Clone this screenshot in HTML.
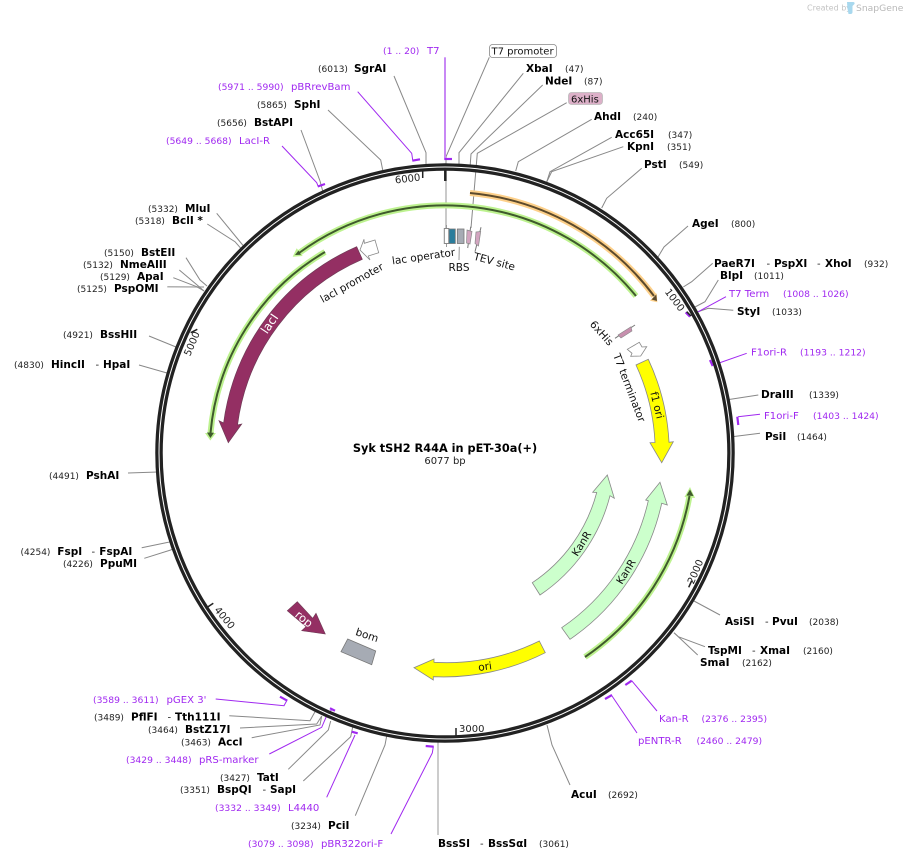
<!DOCTYPE html>
<html><head><meta charset="utf-8"><style>
html,body{margin:0;padding:0;background:#fff}
svg{display:block}
text{font-family:"DejaVu Sans",sans-serif;fill:#111}
.b{font-weight:bold;font-size:10.5px;fill:#000}
.n{font-size:9px;fill:#222}
.d{font-size:10px;fill:#222}
.p{font-size:10.1px;fill:#a028f0}
.q{font-size:9.2px;fill:#a028f0}
.l{font-size:10.5px;fill:#111}
.t{font-size:10px;fill:#222}
.c{fill:none;stroke:#888;stroke-width:1}
.v{fill:none;stroke:#a028f0;stroke-width:1}
.m{fill:none;stroke:#a028f0;stroke-width:2.2}
</style></head><body>
<svg width="904" height="860" viewBox="0 0 904 860" xmlns="http://www.w3.org/2000/svg">
<rect width="904" height="860" fill="#fff"/>

<!-- logo -->
<text x="807" y="10.5" style="font-size:8px;fill:#c4c4c4">Created by</text>
<path d="M847 2h6q2 0 1.500 2l-2 2v6q0 2-2 2l-2 0q-1.500-6-1.500-12z" fill="#a8d8ee"/>
<text x="856" y="11" style="font-size:9.200px;fill:#b8b8b8">SnapGene</text>

<!-- connectors -->
<polyline class="c" points="394,76 426,152.700 426,165"/>
<polyline class="c" points="489.300,57.300 446,156.700 446,165"/>
<polyline class="c" points="523.300,73.300 459,152.700 459,165"/>
<polyline class="c" points="542.700,85 471,154 470,168"/>
<polyline class="c" points="566.700,102.700 477.300,153.300 471,228"/>
<polyline class="c" points="591.700,119.300 518.300,161.700 515.700,171"/>
<polyline class="c" points="611.700,137.300 550,171.700 546.700,182"/>
<polyline class="c" points="623.300,146.700 551.700,171.700 546.700,182"/>
<polyline class="c" points="641.700,168.300 606.700,198.300 601.700,208"/>
<polyline class="c" points="688,226 664,247 658,257"/>
<polyline class="c" points="712.700,263.300 691.700,281.700 683.300,287"/>
<polyline class="c" points="718.300,280 705,301.700 695,307"/>
<polyline class="c" points="733.300,310.300 708.300,308.300 698.300,311.700"/>
<line class="c" x1="758.300" y1="395" x2="729" y2="399.500"/>
<line class="c" x1="760" y1="433.300" x2="732" y2="436.800"/>
<line class="c" x1="720" y1="615" x2="694" y2="601"/>
<polyline class="c" points="705,646.700 678.300,636.700 674,632.700"/>
<polyline class="c" points="697.700,655 678.300,636.700 674,632.700"/>
<polyline class="c" points="570,785 552,745 547,725"/>
<line x1="438" y1="835" x2="438" y2="741" stroke="#bbb" stroke-width="1.500"/>
<polyline class="c" points="229.300,715.700 310,720.700 315,711.700"/>
<polyline class="c" points="240,728 316.700,724 321.700,716"/>
<polyline class="c" points="251.700,737.700 320,725 321.700,716"/>
<polyline class="c" points="288.300,769.300 328.300,730 330.700,721"/>
<polyline class="c" points="303.300,781 350.700,736.700 352.700,727"/>
<polyline class="c" points="355.300,815.700 385,745 386.700,736"/>
<polyline class="c" points="144.300,558.300 170.700,550 175,548"/>
<polyline class="c" points="141.700,547.700 168.300,542.300 173,541"/>
<line class="c" x1="128" y1="473" x2="158" y2="472"/>
<line class="c" x1="139" y1="365" x2="167" y2="373"/>
<line class="c" x1="149" y1="336" x2="176" y2="347"/>
<line x1="167.300" y1="286.700" x2="204" y2="287" stroke="#b0b0b0" stroke-width="1.500"/>
<polyline class="c" points="173.300,277.700 196.700,286.700 204,291"/>
<polyline class="c" points="179.300,270 198.300,286 204,291"/>
<polyline class="c" points="186,257.700 200,280 207,286"/>
<polyline class="c" points="207.300,224 235,241.700 241,248.500"/>
<line class="c" x1="216.700" y1="213.300" x2="243.500" y2="246"/>
<polyline class="c" points="301,130 320,181 323,192"/>
<polyline class="c" points="328,110 380.700,160 382.700,170"/>

<!-- purple connectors -->
<line x1="445" y1="57.300" x2="445" y2="158.300" stroke="#c888f5" stroke-width="2"/>
<line class="m" x1="444.300" y1="159" x2="452" y2="159"/>
<polyline class="v" points="357.700,91.700 411.700,153.300 412.700,160"/>
<line class="m" x1="412.300" y1="160.700" x2="420" y2="159.300"/>
<polyline class="v" points="282,146 316.700,182.700 318,186"/>
<line class="m" x1="317.700" y1="186.500" x2="325" y2="184"/>
<polyline class="v" points="726,296.700 698.300,311.700 690,316"/>
<line class="m" x1="685.700" y1="312.300" x2="690" y2="316.700"/>
<polyline class="v" points="746.700,353.300 713.300,365"/>
<line class="m" x1="710" y1="360" x2="712.700" y2="366"/>
<polyline class="v" points="760,414.300 738,416.700"/>
<line class="m" x1="737.300" y1="416.700" x2="738.300" y2="425"/>
<polyline class="v" points="657,711 631.700,680.700"/>
<line class="m" x1="625.300" y1="685" x2="631.700" y2="680.700"/>
<polyline class="v" points="637,733 612,696"/>
<line class="m" x1="605" y1="699" x2="612" y2="695"/>
<polyline class="v" points="391,834 432.300,753 433.300,746.700"/>
<line class="m" x1="425.700" y1="746" x2="433.700" y2="746.700"/>
<polyline class="v" points="215.700,699 284,705.700 286.700,700.700"/>
<line class="m" x1="280" y1="696.700" x2="287.300" y2="700.700"/>
<polyline class="v" points="269.300,754 321.700,727.300 326,717.300 332,709"/>
<line class="m" x1="330" y1="708.300" x2="335" y2="710.700"/>
<polyline class="v" points="326.700,797.300 355,735"/>
<line class="m" x1="351.700" y1="731.700" x2="357.700" y2="733.300"/>

<!-- inner grey line from T7 marker -->
<line x1="446" y1="168" x2="446" y2="228" stroke="#b8b8b8" stroke-width="1.500"/>

<!-- backbone -->
<circle cx="445" cy="453" r="286" fill="none" stroke="#222" stroke-width="7.500"/>
<circle cx="445" cy="453" r="286" fill="none" stroke="#fff" stroke-width="1"/>

<!-- ticks -->
<g stroke="#222" stroke-width="1.500" fill="none">
<line x1="422.700" y1="170" x2="422.700" y2="178"/>
<line x1="445.300" y1="169" x2="445.300" y2="181" stroke-width="2.500"/>
<line x1="190.700" y1="332.700" x2="197.300" y2="329.300"/>
<line x1="207.300" y1="607.300" x2="213.300" y2="603.300"/>
<line x1="456" y1="728" x2="456" y2="736"/>
<line x1="691.700" y1="580.700" x2="688.700" y2="587.300"/>
<line x1="686.700" y1="311.700" x2="691" y2="316"/>
</g>
<text class="t" text-anchor="middle" transform="translate(408,182) rotate(-7)">6000</text>
<text class="t" text-anchor="middle" transform="translate(195,345) rotate(-67)">5000</text>
<text class="t" text-anchor="middle" transform="translate(222,620) rotate(50)">4000</text>
<text class="t" x="459" y="732">3000</text>
<text class="t" text-anchor="middle" transform="translate(698.500,573) rotate(-67)">2000</text>
<text class="t" text-anchor="middle" transform="translate(672,302) rotate(53)">1000</text>

<!-- primer-binding / halo arcs -->
<g fill="none">
<path d="M636,296 A247,247 0 0 0 299,253" stroke="#bdf28f" stroke-width="6"/>
<path d="M325,252 A234,234 0 0 0 210.500,433" stroke="#bdf28f" stroke-width="6"/>
<path d="M585,657 A248,248 0 0 0 689.500,496" stroke="#bdf28f" stroke-width="6"/>
<path d="M470,193 A260,260 0 0 1 654,296" stroke="#fdd08a" stroke-width="6"/>
</g>
<polygon points="292.700,256.700 296.700,248.300 302.700,256" fill="#bdf28f"/>
<polygon points="205,433 216,433 210.300,440.500" fill="#bdf28f"/>
<polygon points="690,487 684.500,497 695,498" fill="#bdf28f"/>
<polygon points="657.300,302.300 650,300.700 656.700,293.300" fill="#fdd08a"/>
<g fill="none" stroke-width="2">
<path d="M636,296 A247,247 0 0 0 299,253" stroke="#3f5a2c"/>
<path d="M325,252 A234,234 0 0 0 210.500,433" stroke="#3f5a2c"/>
<path d="M585,657 A248,248 0 0 0 689.500,496" stroke="#3f5a2c"/>
<path d="M470,193 A260,260 0 0 1 654,296" stroke="#5c4a2c"/>
</g>
<polygon points="295,255 298.500,250.500 301,254.800" fill="#3f5a2c"/>
<polygon points="207,432.500 214,432.800 210.400,438" fill="#3f5a2c"/>
<polygon points="690,489.500 686.500,495.500 693.500,496" fill="#3f5a2c"/>
<polygon points="657,301 651.500,299.500 656.300,294.500" fill="#5c4a2c"/>

<!-- small top features -->
<line x1="446.500" y1="225" x2="446.500" y2="247" stroke="#999" stroke-width="1"/>
<rect x="444.300" y="228.500" width="4.500" height="15" fill="#fff" stroke="#888" stroke-width="1"/>
<rect x="449" y="229" width="6.300" height="14.500" fill="#2a7d9c" stroke="#777" stroke-width="0.800"/>
<rect x="457.300" y="229" width="6.700" height="14.500" fill="#a6abb4" stroke="#777" stroke-width="0.800"/>
<line x1="470.700" y1="226.700" x2="467.700" y2="248" stroke="#777" stroke-width="1"/>
<polygon points="467,230 472,231.500 470,244 466.500,243" fill="#d3a5c0" stroke="#888" stroke-width="0.700"/>
<line x1="481" y1="227.300" x2="475" y2="251.700" stroke="#777" stroke-width="1"/>
<polygon points="476,232 480.700,231.500 478.500,246 475,243.500" fill="#d3a5c0" stroke="#888" stroke-width="0.700"/>
<line x1="459.300" y1="246.700" x2="459" y2="260" stroke="#999" stroke-width="1"/>

<text class="l" text-anchor="middle" transform="translate(424,260) rotate(-8)">lac operator</text>
<text class="l" text-anchor="middle" x="459" y="271">RBS</text>
<text class="l" text-anchor="middle" transform="translate(493.500,265) rotate(15)">TEV site</text>
<text class="l" text-anchor="middle" transform="translate(353.500,286) rotate(-29)">lacI promoter</text>

<!-- lacI -->
<path d="M356.700,246.700 A224,224 0 0 0 223.600,423 L219,420.700 L228.300,442.700 L241.700,424 L237.500,425 A210,210 0 0 1 362.300,259.300 Z" fill="#942f63" stroke="#6e3a55" stroke-width="0.700"/>
<text class="l" text-anchor="middle" style="fill:#fff;font-size:12px" transform="translate(273,326) rotate(-56)">lacI</text>
<!-- lacI promoter arrow -->
<polygon points="360,250 364,239.300 364.300,243.300 375,240 378.700,252.700 368.300,256 370,260" fill="#fff" stroke="#888" stroke-width="0.800"/>

<!-- 6xHis lower -->
<line x1="615" y1="338.300" x2="635" y2="325" stroke="#777" stroke-width="1"/>
<polygon points="618,335 631,326.700 632,331 621,338" fill="#c78fae" stroke="#888" stroke-width="0.600"/>
<text class="l" text-anchor="middle" transform="translate(599,335.500) rotate(48)">6xHis</text>
<text class="l" text-anchor="middle" transform="translate(626,389) rotate(69)">T7 terminator</text>
<polygon points="627.300,349.300 639.300,342.300 642,347 646.700,346.700 640.700,356 630.700,356.300 632,353.300" fill="#fff" stroke="#888" stroke-width="0.800"/>

<!-- f1 ori -->
<path d="M648.300,359.300 A223,223 0 0 1 669,442.300 L673.300,441.700 L661.700,462.700 L650,442.700 L655,442.500 A209.500,209.500 0 0 0 636,365 Z" fill="#ffff00" stroke="#888" stroke-width="0.800"/>
<text class="l" text-anchor="middle" transform="translate(653.500,406) rotate(76)">f1 ori</text>

<!-- KanR -->
<path d="M660,482.300 L645.700,500 L648.300,500.700 A209.500,209.500 0 0 1 561.700,627.700 L570,639.300 A223,223 0 0 0 661.700,503.300 L667.300,505 Z" fill="#ccffcc" stroke="#888" stroke-width="0.800"/>
<text class="l" text-anchor="middle" transform="translate(629,573.500) rotate(-58)">KanR</text>
<path d="M607.300,475 L592.700,492.300 L596.700,492.500 A156.500,156.500 0 0 1 532.300,582.700 L540,595 A170.500,170.500 0 0 0 610,495.700 L614.300,498.300 Z" fill="#ccffcc" stroke="#888" stroke-width="0.800"/>
<text class="l" text-anchor="middle" transform="translate(584.500,545.500) rotate(-58)">KanR</text>

<!-- ori -->
<path d="M539.300,641 A211,211 0 0 1 434,662.300 L434,659 L414,667.700 L433.300,680 L433.300,676.700 A225,225 0 0 0 545.300,652.700 Z" fill="#ffff00" stroke="#888" stroke-width="0.800"/>
<text class="l" text-anchor="middle" transform="translate(485.500,670) rotate(-8)">ori</text>

<!-- rop -->
<polygon points="287.300,610.700 297.300,601.700 312.700,618.300 316,613.300 325.300,634 301.700,630.700 306,626.700" fill="#942f63" stroke="#6e3a55" stroke-width="0.600"/>
<text class="l" text-anchor="middle" style="fill:#fff;font-size:11.500px" transform="translate(301.500,622) rotate(40)">rop</text>

<!-- bom -->
<polygon points="347.700,639 375.700,651 371.700,664.700 341,651.700" fill="#a6abb4" stroke="#777" stroke-width="0.800"/>
<text class="l" text-anchor="middle" transform="translate(366,638.500) rotate(18)">bom</text>

<!-- title -->
<text x="445" y="452" text-anchor="middle" style="font-weight:bold;font-size:11.300px;fill:#000">Syk tSH2 R44A in pET-30a(+)</text>
<text x="445" y="464" text-anchor="middle" style="font-size:10px;fill:#222">6077 bp</text>

<!-- top labels -->
<text class="q" x="383" y="54">(1 .. 20)</text><text class="p" x="427" y="54">T7</text>
<rect x="489.500" y="44.500" width="67" height="13" rx="3" fill="#fff" stroke="#888" stroke-width="0.800"/>
<text class="l" x="491.500" y="54.500" style="font-size:10px">T7 promoter</text>
<text class="n" x="318" y="72">(6013)</text><text class="b" x="354" y="72">SgrAI</text>
<text class="b" x="526" y="72">XbaI</text><text class="n" x="565" y="72">(47)</text>
<text class="b" x="545" y="84.500">NdeI</text><text class="n" x="584" y="84.500">(87)</text>
<rect x="568.500" y="92.500" width="34" height="12" rx="3" fill="#dcb0c8" stroke="#bbb" stroke-width="0.800"/>
<text class="l" x="571" y="102.500" style="font-size:10px">6xHis</text>
<text class="b" x="594" y="120">AhdI</text><text class="n" x="633" y="120">(240)</text>
<text class="b" x="615" y="138">Acc65I</text><text class="n" x="668" y="138">(347)</text>
<text class="b" x="627" y="150">KpnI</text><text class="n" x="667" y="150">(351)</text>
<text class="b" x="644" y="168">PstI</text><text class="n" x="679" y="168">(549)</text>
<text class="b" x="692" y="227">AgeI</text><text class="n" x="731" y="227">(800)</text>

<!-- right labels -->
<text class="b" x="714" y="267">PaeR7I</text><text class="d" x="766.500" y="267">-</text><text class="b" x="774" y="267">PspXI</text><text class="d" x="817" y="267">-</text><text class="b" x="825" y="267">XhoI</text><text class="n" x="864" y="267">(932)</text>
<text class="b" x="720" y="279">BlpI</text><text class="n" x="754" y="279">(1011)</text>
<text class="p" x="729" y="297">T7 Term</text><text class="q" x="783" y="297">(1008 .. 1026)</text>
<text class="b" x="737" y="315">StyI</text><text class="n" x="772" y="315">(1033)</text>
<text class="p" x="751" y="355.500">F1ori-R</text><text class="q" x="800" y="355.500">(1193 .. 1212)</text>
<text class="b" x="761" y="398">DraIII</text><text class="n" x="809" y="398">(1339)</text>
<text class="p" x="764" y="419">F1ori-F</text><text class="q" x="813" y="419">(1403 .. 1424)</text>
<text class="b" x="765" y="440">PsiI</text><text class="n" x="797" y="440">(1464)</text>
<text class="b" x="725" y="625">AsiSI</text><text class="d" x="765" y="625">-</text><text class="b" x="772" y="625">PvuI</text><text class="n" x="809" y="625">(2038)</text>
<text class="b" x="708" y="654">TspMI</text><text class="d" x="752" y="654">-</text><text class="b" x="760" y="654">XmaI</text><text class="n" x="803" y="654">(2160)</text>
<text class="b" x="700" y="666">SmaI</text><text class="n" x="742" y="666">(2162)</text>
<text class="p" x="659" y="722">Kan-R</text><text class="q" x="701.500" y="722">(2376 .. 2395)</text>
<text class="p" x="638" y="744">pENTR-R</text><text class="q" x="696.500" y="744">(2460 .. 2479)</text>

<!-- bottom labels -->
<text class="b" x="571" y="798">AcuI</text><text class="n" x="608" y="798">(2692)</text>
<text class="b" x="438" y="847">BssSI</text><text class="d" x="480" y="847">-</text><text class="b" x="488" y="847">BssSαI</text><text class="n" x="539" y="847">(3061)</text>
<text class="q" x="248" y="847">(3079 .. 3098)</text><text class="p" x="321" y="847">pBR322ori-F</text>
<text class="n" x="291" y="829">(3234)</text><text class="b" x="328" y="829">PciI</text>
<text class="q" x="215" y="811">(3332 .. 3349)</text><text class="p" x="288" y="811">L4440</text>
<text class="n" x="180" y="793">(3351)</text><text class="b" x="217" y="793">BspQI</text><text class="d" x="262.500" y="793">-</text><text class="b" x="270" y="793">SapI</text>
<text class="n" x="220" y="781">(3427)</text><text class="b" x="257" y="781">TatI</text>
<text class="q" x="126" y="763">(3429 .. 3448)</text><text class="p" x="199" y="763">pRS-marker</text>
<text class="n" x="181" y="745.500">(3463)</text><text class="b" x="218" y="745.500">AccI</text>
<text class="n" x="148" y="733">(3464)</text><text class="b" x="185" y="733">BstZ17I</text>
<text class="n" x="94" y="720.500">(3489)</text><text class="b" x="131" y="720.500">PflFI</text><text class="d" x="167.500" y="720.500">-</text><text class="b" x="175" y="720.500">Tth111I</text>
<text class="q" x="93" y="703">(3589 .. 3611)</text><text class="p" x="166.500" y="703">pGEX 3'</text>

<!-- left labels -->
<text class="n" x="63" y="567">(4226)</text><text class="b" x="100" y="567">PpuMI</text>
<text class="n" x="20.500" y="555">(4254)</text><text class="b" x="57.300" y="555">FspI</text><text class="d" x="91.500" y="555">-</text><text class="b" x="99.300" y="555">FspAI</text>
<text class="n" x="49" y="479">(4491)</text><text class="b" x="86" y="479">PshAI</text>
<text class="n" x="14" y="368">(4830)</text><text class="b" x="51" y="368">HincII</text><text class="d" x="95.500" y="368">-</text><text class="b" x="103" y="368">HpaI</text>
<text class="n" x="63" y="338">(4921)</text><text class="b" x="100" y="338">BssHII</text>
<text class="n" x="77" y="292">(5125)</text><text class="b" x="114" y="292">PspOMI</text>
<text class="n" x="100" y="280">(5129)</text><text class="b" x="137" y="280">ApaI</text>
<text class="n" x="83" y="268">(5132)</text><text class="b" x="120" y="268">NmeAIII</text>
<text class="n" x="104" y="256">(5150)</text><text class="b" x="141" y="256">BstEII</text>
<text class="n" x="135" y="224">(5318)</text><text class="b" x="172" y="224">BclI *</text>
<text class="n" x="148" y="212">(5332)</text><text class="b" x="185" y="212">MluI</text>
<text class="q" x="166" y="144">(5649 .. 5668)</text><text class="p" x="239" y="144">LacI-R</text>
<text class="n" x="217" y="126">(5656)</text><text class="b" x="254" y="126">BstAPI</text>
<text class="n" x="257" y="108">(5865)</text><text class="b" x="294" y="108">SphI</text>
<text class="q" x="218" y="90">(5971 .. 5990)</text><text class="p" x="291" y="90">pBRrevBam</text>
</svg>
</body></html>
